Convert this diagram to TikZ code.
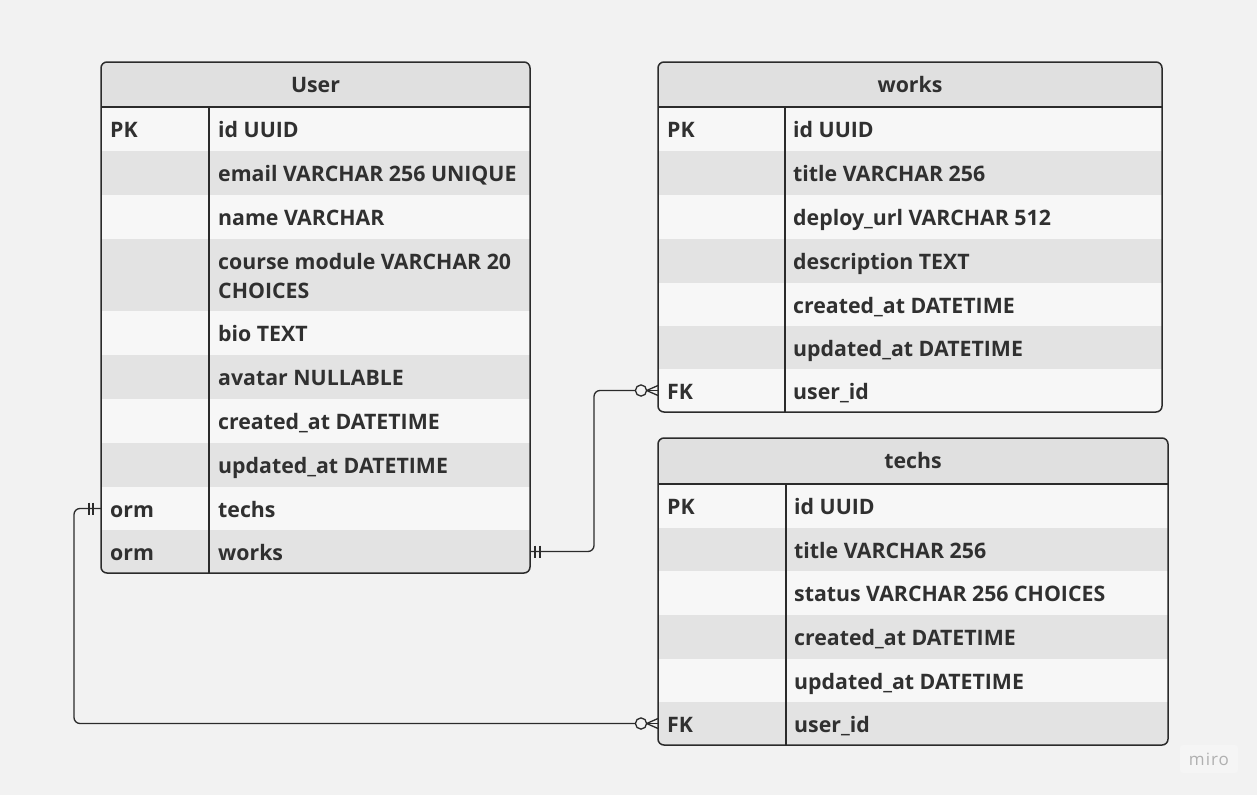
\documentclass[tikz,border=0pt]{standalone}
\usepackage{fontspec}
\setmainfont{Open Sans}
\definecolor{bgc}{HTML}{F2F2F2}
\definecolor{hdrc}{HTML}{E0E0E0}
\definecolor{rowA}{HTML}{F7F7F7}
\definecolor{rowB}{HTML}{E3E3E3}
\definecolor{linec}{HTML}{2B2B2B}
\definecolor{txtc}{HTML}{303030}
\definecolor{miroc}{HTML}{B0B0B0}
\definecolor{mirobg}{HTML}{F5F5F5}
\tikzset{
 cell/.style={draw=none, inner sep=0pt, outer sep=0pt, anchor=north west},
 txt/.style={anchor=base west, inner sep=0pt, text=txtc, align=left, font=\fontsize{21.3}{29}\selectfont\bfseries},
 hdr/.style={anchor=base, inner sep=0pt, text=txtc, font=\fontsize{21.3}{25}\selectfont\bfseries},
 border/.style={draw=linec, line width=1.5pt, rounded corners=6pt},
 grid/.style={draw=linec, line width=1.3pt},
 conn/.style={draw=linec, line width=1.3pt, rounded corners=6pt},
 sym/.style={draw=linec, line width=1.3pt},
}
\begin{document}
\begin{tikzpicture}[x=1pt,y=-1pt]
\useasboundingbox (0,0) rectangle (1257,795);
\fill[bgc] (0,0) rectangle (1257,795);
% ---------------- User ----------------
\begin{scope}
\clip[rounded corners=6pt] (101,62) rectangle (530,573);
\node[cell, fill=hdrc, minimum width=429pt, minimum height=45pt] (uh) at (101,62) {};
\foreach \n/\y/\h/\c in {1/107/44/rowA,2/151/44/rowB,3/195/44/rowA,4/239/72/rowB,5/311/44/rowA,6/355/44/rowB,7/399/44/rowA,8/443/44/rowB,9/487/43/rowA,10/530/43/rowB}
  \node[cell, fill=\c, minimum width=429pt, minimum height=\h pt] (u\n) at (101,\y) {};
\end{scope}
\draw[grid] (uh.south west) -- (uh.south east);
\draw[grid] (209,107) -- (209,573);
\draw[border] (101,62) rectangle (530,573);
\node[hdr] (uht) at ([yshift=-7.5pt]uh.center) {User};
\foreach \n/\k/\f in {1/PK/id UUID,2//email VARCHAR 256 UNIQUE,3//name VARCHAR,5//bio TEXT,6//avatar NULLABLE,7//created\_at DATETIME,8//updated\_at DATETIME,9/orm/techs,10/orm/works}{
  \node[txt] (uk\n) at ([xshift=9pt,yshift=-8.5pt]u\n.west) {\k};
  \node[txt] (uf\n) at ([xshift=117pt,yshift=-8.5pt]u\n.west) {\f};
}
\node[txt, anchor=west] (uf4) at ([xshift=117pt,yshift=-1pt]u4.west) {course module VARCHAR 20\\CHOICES};
% ---------------- works ----------------
\begin{scope}
\clip[rounded corners=6pt] (658,62) rectangle (1162,412);
\node[cell, fill=hdrc, minimum width=504pt, minimum height=45pt] (wh) at (658,62) {};
\foreach \n/\y/\h/\c in {1/107/44/rowA,2/151/44/rowB,3/195/44/rowA,4/239/44/rowB,5/283/43/rowA,6/326/43/rowB,7/369/43/rowA}
  \node[cell, fill=\c, minimum width=504pt, minimum height=\h pt] (w\n) at (658,\y) {};
\end{scope}
\draw[grid] (wh.south west) -- (wh.south east);
\draw[grid] (785,107) -- (785,412);
\draw[border] (658,62) rectangle (1162,412);
\node[hdr] (wht) at ([yshift=-7.5pt]wh.center) {works};
\foreach \n/\k/\f in {1/PK/id UUID,2//title VARCHAR 256,3//deploy\_url VARCHAR 512,4//description TEXT,5//created\_at DATETIME,6//updated\_at DATETIME,7/FK/user\_id}{
  \node[txt] (wk\n) at ([xshift=9pt,yshift=-8.5pt]w\n.west) {\k};
  \node[txt] (wf\n) at ([xshift=135pt,yshift=-8.5pt]w\n.west) {\f};
}
% ---------------- techs ----------------
\begin{scope}
\clip[rounded corners=6pt] (658,438) rectangle (1168,745);
\node[cell, fill=hdrc, minimum width=510pt, minimum height=46pt] (th) at (658,438) {};
\foreach \n/\y/\h/\c in {1/484/44/rowA,2/528/43/rowB,3/571/44/rowA,4/615/44/rowB,5/659/43/rowA,6/702/43/rowB}
  \node[cell, fill=\c, minimum width=510pt, minimum height=\h pt] (t\n) at (658,\y) {};
\end{scope}
\draw[grid] (th.south west) -- (th.south east);
\draw[grid] (786,484) -- (786,745);
\draw[border] (658,438) rectangle (1168,745);
\node[hdr] (tht) at ([yshift=-7.5pt]th.center) {techs};
\foreach \n/\k/\f in {1/PK/id UUID,2//title VARCHAR 256,3//status VARCHAR 256 CHOICES,4//created\_at DATETIME,5//updated\_at DATETIME,6/FK/user\_id}{
  \node[txt] (tk\n) at ([xshift=9pt,yshift=-8.5pt]t\n.west) {\k};
  \node[txt] (tf\n) at ([xshift=136pt,yshift=-8.5pt]t\n.west) {\f};
}
% ---------------- connectors ----------------
% User.works -> works.user_id
\draw[conn] (u10.east) -- ++(64,0) |- ([xshift=-23pt]w7.west);
\draw[sym] ([xshift=5pt,yshift=6pt]u10.east) -- ([xshift=5pt,yshift=-6pt]u10.east);
\draw[sym] ([xshift=10pt,yshift=6pt]u10.east) -- ([xshift=10pt,yshift=-6pt]u10.east);
\draw[sym, fill=bgc] ([xshift=-17pt]w7.west) circle (5.6pt);
\draw[sym] ([xshift=-11.4pt]w7.west) -- ([yshift=5pt]w7.west);
\draw[sym] ([xshift=-11.4pt]w7.west) -- (w7.west);
\draw[sym] ([xshift=-11.4pt]w7.west) -- ([yshift=-5pt]w7.west);
% User.techs -> techs.user_id
\draw[conn] (u9.west) -- ++(-27,0) |- ([xshift=-23pt]t6.west);
\draw[sym] ([xshift=-8pt,yshift=6pt]u9.west) -- ([xshift=-8pt,yshift=-6pt]u9.west);
\draw[sym] ([xshift=-12pt,yshift=6pt]u9.west) -- ([xshift=-12pt,yshift=-6pt]u9.west);
\draw[sym, fill=bgc] ([xshift=-17pt]t6.west) circle (5.6pt);
\draw[sym] ([xshift=-11.4pt]t6.west) -- ([yshift=5pt]t6.west);
\draw[sym] ([xshift=-11.4pt]t6.west) -- (t6.west);
\draw[sym] ([xshift=-11.4pt]t6.west) -- ([yshift=-5pt]t6.west);
% miro mark
\fill[mirobg, rounded corners=3pt] (1180,745) rectangle (1238,773);
\node[text=miroc, inner sep=0pt, font=\fontsize{17}{20}\selectfont\addfontfeatures{LetterSpace=6}] (miro) at (1209,759) {miro};
\end{tikzpicture}
\end{document}
